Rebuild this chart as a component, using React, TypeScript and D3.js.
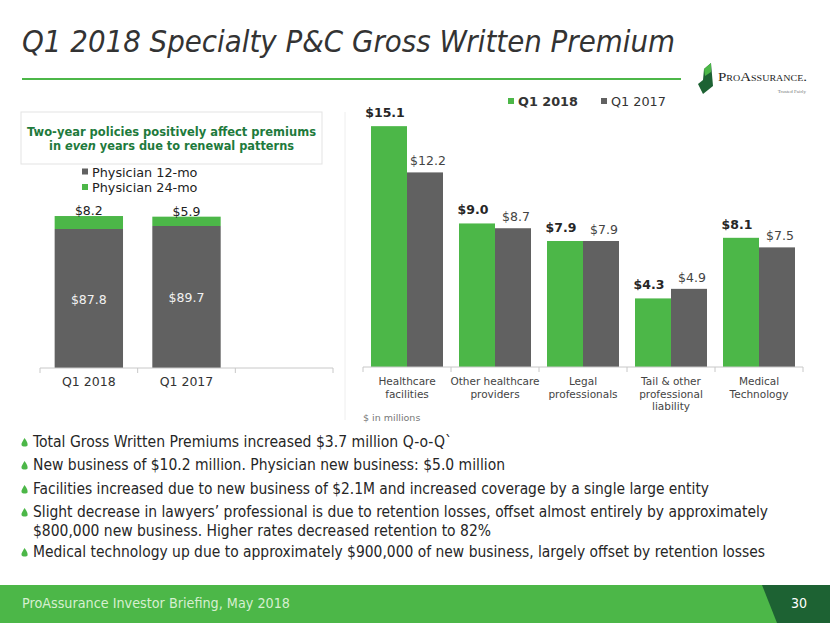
import React, { useEffect, useRef } from "react";
import * as d3 from "d3";

// left chart: physician premiums
const physCategories = ["Q1 2018", "Q1 2017", "blank"];
const physLabels = ["Q1 2018", "Q1 2017", ""];
const phys12mo = [87.8, 89.7];
const phys24mo = [8.2, 5.9];
const physSeries = ["Physician 12-mo", "Physician 24-mo"];

// right chart: specialty lines
const lineCategories = ["Healthcare facilities", "Other healthcare providers", "Legal professionals", "Tail & other professional liability", "Medical Technology"];
const lineLabels = [
  ["Healthcare", "facilities"],
  ["Other healthcare", "providers"],
  ["Legal", "professionals"],
  ["Tail & other", "professional", "liability"],
  ["Medical", "Technology"],
];
const seriesNames = ["Q1 2018", "Q1 2017"];
const q1_2018 = [15.1, 9.0, 7.9, 4.3, 8.1];
const q1_2017 = [12.2, 8.7, 7.9, 4.9, 7.5];

const bullets = [
  "Total Gross Written Premiums increased $3.7 million Q-o-Q`",
  "New business of $10.2 million. Physician new business: $5.0 million",
  "Facilities increased due to new business of $2.1M and increased coverage by a single large entity",
  "Slight decrease in lawyers\u2019 professional is due to retention losses, offset almost entirely by approximately",
  "$800,000 new business. Higher rates decreased retention to 82%",
  "Medical technology up due to approximately $900,000 of new business, largely offset by retention losses",
];
const bulletMarks = [true, true, true, true, false, true];

const GREEN = "#4cb748";
const GREY = "#616161";
const DARK = "#1d6233";
const FONT = "'DejaVu Sans', Verdana, sans-serif";
const NARROW = "'DejaVu Sans Condensed', 'Liberation Sans Narrow', 'DejaVu Sans', sans-serif";

const App = () => {
  const ref = useRef(null);
  const width = 830;
  const height = 623;

  useEffect(() => {
    const svg = d3.select(ref.current);
    svg.selectAll("g.chart").remove();

    // ---------- left chart ----------
    const left = svg.append("g").attr("class", "chart");
    const xL = d3.scaleBand().domain(physCategories).range([40, 333]).paddingInner(0.3).paddingOuter(0.15);
    const yL = d3.scaleLinear().domain([0, 100]).range([368, 209.7]);

    left.append("g")
      .selectAll("rect.g12")
      .data(phys12mo)
      .enter()
      .append("rect")
      .attr("x", (d, i) => xL(physCategories[i]))
      .attr("width", xL.bandwidth())
      .attr("y", (d) => yL(d))
      .attr("height", (d) => yL(0) - yL(d))
      .attr("fill", GREY);

    left.append("g")
      .selectAll("rect")
      .data(phys24mo)
      .enter()
      .append("rect")
      .attr("x", (d, i) => xL(physCategories[i]))
      .attr("width", xL.bandwidth())
      .attr("y", (d, i) => yL(phys12mo[i] + d))
      .attr("height", (d) => yL(0) - yL(d))
      .attr("fill", GREEN);

    left.append("g")
      .selectAll("text")
      .data(phys12mo)
      .enter()
      .append("text")
      .attr("x", (d, i) => xL(physCategories[i]) + xL.bandwidth() / 2)
      .attr("y", (d) => yL(d / 2) + 5)
      .attr("text-anchor", "middle")
      .attr("fill", "#f2f2f2")
      .attr("font-size", 12.5)
      .attr("font-family", FONT)
      .text((d) => `$${d.toFixed(1)}`);

    left.append("g")
      .selectAll("text")
      .data(phys24mo)
      .enter()
      .append("text")
      .attr("x", (d, i) => xL(physCategories[i]) + xL.bandwidth() / 2)
      .attr("y", (d, i) => yL(phys12mo[i] + d) - 1)
      .attr("text-anchor", "middle")
      .attr("fill", "#222")
      .attr("font-size", 12.5)
      .attr("font-family", FONT)
      .text((d) => `$${d.toFixed(1)}`);

    // axis with ticks between categories
    const [l0, l1] = xL.range();
    left.append("line").attr("x1", l0).attr("x2", l1).attr("y1", 368).attr("y2", 368).attr("stroke", "#c8c8c8");
    left.append("g")
      .selectAll("line")
      .data(d3.range(physCategories.length + 1))
      .enter()
      .append("line")
      .attr("x1", (i) => l0 + i * xL.step())
      .attr("x2", (i) => l0 + i * xL.step())
      .attr("y1", 368)
      .attr("y2", 373)
      .attr("stroke", "#c8c8c8");
    left.append("g")
      .selectAll("text")
      .data(physLabels)
      .enter()
      .append("text")
      .attr("x", (d, i) => xL(physCategories[i]) + xL.bandwidth() / 2)
      .attr("y", 386)
      .attr("text-anchor", "middle")
      .attr("fill", "#333")
      .attr("font-size", 12.5)
      .attr("font-family", FONT)
      .text((d) => d);

    const legL = left.append("g").selectAll("g").data(physSeries).enter().append("g")
      .attr("transform", (d, i) => `translate(82,${172 + i * 15.5})`);
    legL.append("rect").attr("x", 0).attr("y", -3.5).attr("width", 6).attr("height", 6)
      .attr("fill", (d, i) => (i === 0 ? GREY : GREEN));
    legL.append("text").attr("x", 10).attr("y", 4.5).attr("font-size", 12.8).attr("font-family", FONT)
      .attr("fill", "#222").text((d) => d);

    // ---------- right chart ----------
    const right = svg.append("g").attr("class", "chart");
    const x0 = d3.scaleBand().domain(lineCategories).range([363, 803]).paddingInner(0.182).paddingOuter(0.091);
    const x1 = d3.scaleBand().domain(seriesNames).range([0, x0.bandwidth()]);
    const yR = d3.scaleLinear().domain([0, 16]).range([367, 111.8]);
    const rows = lineCategories.map((c, i) => ({ cat: c, vals: [q1_2018[i], q1_2017[i]] }));

    right.append("line").attr("x1", 345).attr("x2", 345).attr("y1", 112).attr("y2", 420).attr("stroke", "#eeeeee");

    const groups = right.append("g").selectAll("g").data(rows).enter().append("g")
      .attr("transform", (d) => `translate(${x0(d.cat)},0)`);
    groups.selectAll("rect")
      .data((d) => d.vals.map((v, j) => ({ s: seriesNames[j], v, j })))
      .enter()
      .append("rect")
      .attr("x", (d) => x1(d.s))
      .attr("width", x1.bandwidth())
      .attr("y", (d) => yR(d.v))
      .attr("height", (d) => yR(0) - yR(d.v))
      .attr("fill", (d) => (d.j === 0 ? GREEN : GREY));
    groups.selectAll("text")
      .data((d) => d.vals.map((v, j) => ({ s: seriesNames[j], v, j })))
      .enter()
      .append("text")
      .attr("x", (d) => x1(d.s) + x1.bandwidth() / 2 + (d.j === 0 ? -4 : 3))
      .attr("y", (d) => yR(d.v) - (d.j === 0 ? 9 : 7))
      .attr("text-anchor", "middle")
      .attr("font-size", 12.5)
      .attr("font-weight", (d) => (d.j === 0 ? "bold" : "normal"))
      .attr("fill", (d) => (d.j === 0 ? "#262626" : "#444"))
      .attr("font-family", FONT)
      .text((d) => `$${d.v.toFixed(1)}`);

    const [r0, r1] = x0.range();
    right.append("line").attr("x1", r0).attr("x2", r1).attr("y1", 367).attr("y2", 367).attr("stroke", "#c8c8c8");
    right.append("g")
      .selectAll("line")
      .data(d3.range(lineCategories.length + 1))
      .enter()
      .append("line")
      .attr("x1", (i) => r0 + i * x0.step())
      .attr("x2", (i) => r0 + i * x0.step())
      .attr("y1", 367)
      .attr("y2", 372)
      .attr("stroke", "#c8c8c8");
    right.append("g")
      .selectAll("text")
      .data(lineLabels)
      .enter()
      .append("text")
      .attr("text-anchor", "middle")
      .attr("font-size", 10.5)
      .attr("font-family", FONT)
      .attr("fill", "#444")
      .each(function (d, i) {
        const t = d3.select(this);
        d.forEach((ln, k) => {
          t.append("tspan")
            .attr("x", x0(lineCategories[i]) + x0.bandwidth() / 2)
            .attr("y", 385 + k * 12.6)
            .text(ln);
        });
      });
    right.append("text").attr("x", 363).attr("y", 421).attr("font-size", 9.5).attr("font-family", FONT)
      .attr("fill", "#777").text("$ in millions");

    const legR = right.append("g").selectAll("g").data(seriesNames).enter().append("g")
      .attr("transform", (d, i) => `translate(${508 + i * 93},101.5)`);
    legR.append("rect").attr("x", 0).attr("y", -3.5).attr("width", 6).attr("height", 6)
      .attr("fill", (d, i) => (i === 0 ? GREEN : GREY));
    legR.append("text").attr("x", 10).attr("y", 4.5).attr("font-size", 12.8).attr("font-family", FONT)
      .attr("font-weight", (d, i) => (i === 0 ? "bold" : "normal"))
      .attr("fill", "#333").text((d) => d);
  }, []);

  const bulletEnds = [452, 505, 709, 768, 491, 765];
  const bulletY = [447, 470, 494, 517, 536, 557];

  return (
    <svg ref={ref} width={width} height={height} style={{ position: "absolute", left: 0, top: 0, background: "#fff" }}>
      <text x={22} y={52} fontSize={30} fontStyle="italic" fontFamily={FONT} fill="#333"
        textLength={653} lengthAdjust="spacingAndGlyphs">
        Q1 2018 Specialty P&amp;C Gross Written Premium
      </text>
      <line x1={22} x2={681} y1={79} y2={79} stroke={GREEN} strokeWidth={2} />

      {/* logo */}
      <path d="M704,69 L711,63 L713,86 L703,94 L698,84 L703,80 Z" fill={DARK} />
      <path d="M704,69 L711,63 L711,72 L705,76 Z" fill={GREEN} />
      <text x={718} y={81} fontSize={12} fontFamily="'Liberation Serif', 'DejaVu Serif', serif"
        style={{ fontVariant: "small-caps" }} fill="#222" textLength={89} lengthAdjust="spacingAndGlyphs">
        ProAssurance.
      </text>
      <text x={806} y={93} fontSize={5} textAnchor="end" fontFamily="'Liberation Serif', serif" fill="#777">
        Trusted Fairly
      </text>

      {/* callout box */}
      <rect x={21} y={112} width={301} height={52} fill="#fff" stroke="#e3e3e3" />
      <text x={171.5} y={136} textAnchor="middle" fontSize={12.5} fontWeight="bold" fontFamily={FONT} fill="#1e7a3c"
        textLength={289} lengthAdjust="spacingAndGlyphs">
        Two-year policies positively affect premiums
      </text>
      <text x={171.5} y={149.5} textAnchor="middle" fontSize={12.5} fontWeight="bold" fontFamily={FONT} fill="#1e7a3c"
        textLength={245} lengthAdjust="spacingAndGlyphs">
        in <tspan fontStyle="italic">even</tspan> years due to renewal patterns
      </text>

      {/* bullets */}
      {bullets.map((b, i) => (
        <g key={i}>
          {bulletMarks[i] && (
            <path
              d={`M24.5,${bulletY[i] - 9} C27,${bulletY[i] - 6} 28,${bulletY[i] - 3} 27.5,${bulletY[i] - 1.5} C27,${bulletY[i]} 22,${bulletY[i]} 21.5,${bulletY[i] - 2} C21,${bulletY[i] - 4} 23,${bulletY[i] - 6} 24.5,${bulletY[i] - 9} Z`}
              fill={GREEN}
            />
          )}
          <text x={33} y={bulletY[i]} fontSize={15} fontFamily={NARROW} fill="#262626"
            textLength={bulletEnds[i] - 33} lengthAdjust="spacingAndGlyphs">
            {b}
          </text>
        </g>
      ))}

      {/* footer */}
      <rect x={0} y={585} width={830} height={38} fill={GREEN} />
      <path d="M762,585 L830,585 L830,623 L777,623 Z" fill={DARK} />
      <text x={22} y={608} fontSize={14.5} fontFamily={NARROW} fill="#d6efd0" textLength={268} lengthAdjust="spacingAndGlyphs">
        ProAssurance Investor Briefing, May 2018
      </text>
      <text x={807} y={608} fontSize={14} textAnchor="end" fontFamily={NARROW} fill="#fff">
        30
      </text>
    </svg>
  );
};

export default App;
